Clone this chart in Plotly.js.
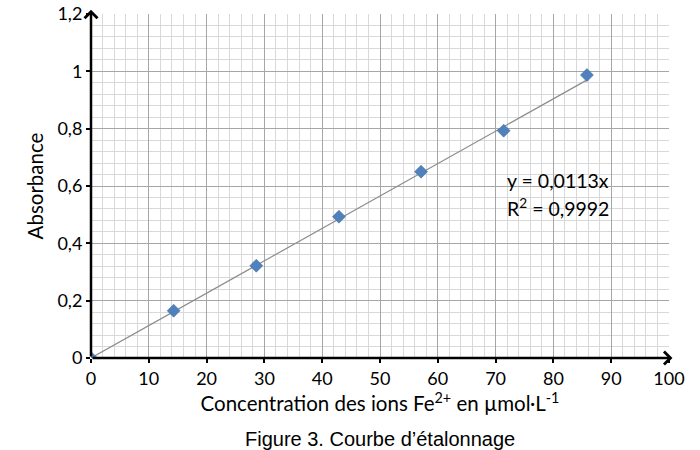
<!DOCTYPE html>
<html>
<head>
<meta charset="utf-8">
<script src="https://cdn.plot.ly/plotly-3.0.1.min.js"></script>
<style>
  body { margin: 0; background: #fff; }
  #chart { width: 700px; height: 450px; }
</style>
</head>
<body>
<div id="chart"></div>
<script>
    // measured points (concentration in µmol/L, absorbance)
    var concentration = [0, 14.3, 28.6, 42.9, 57.1, 71.4, 85.8];
    var absorbance = [0, 0.165, 0.322, 0.493, 0.650, 0.793, 0.987];

    // trendline ends as drawn on the picture
    var trendX = [0, 86];
    var trendY = [0, 0.972];

    var eqLines = ['y = 0,0113x', 'R<sup>2</sup> = 0,9992'];
    var caption = 'Figure 3. Courbe d\u2019\u00e9talonnage';

    var family = 'Lato, "Open Sans", sans-serif';
    var tickFont = {family: family, size: 18, color: '#000'};
    var titleFont = {family: family, size: 20.5, color: '#000'};

    var data = [
        {x: trendX, y: trendY,
         type: 'scatter', mode: 'lines',
         line: {color: '#8c8c8c', width: 1.2},
         hoverinfo: 'skip'},
        {x: concentration, y: absorbance,
         type: 'scatter', mode: 'markers',
         marker: {symbol: 'diamond', size: 10, color: '#4f81bd',
                  line: {color: '#3d6a9e', width: 0.5}}}
    ];

    var layout = {
        width: 700,
        height: 450,
        margin: {l: 91, r: 31, t: 14, b: 92},
        separators: ', ',
        showlegend: false,
        paper_bgcolor: '#fff',
        plot_bgcolor: '#fff',
        font: tickFont,
        xaxis: {
            range: [0, 100],
            dtick: 10,
            showgrid: true,
            gridcolor: '#a6a6a6',
            gridwidth: 1,
            minor: {dtick: 2, showgrid: true, gridcolor: '#d9d9d9', gridwidth: 1},
            zeroline: false,
            showline: false,
            ticks: 'outside',
            ticklen: 4,
            tickwidth: 2,
            tickcolor: '#000',
            tickfont: tickFont,
            title: {text: 'Concentration des ions Fe<sup>2+</sup> en \u00b5mol\u00b7L<sup>-1</sup>',
                    font: titleFont, standoff: 0}
        },
        yaxis: {
            range: [0, 1.2],
            dtick: 0.2,
            showgrid: true,
            gridcolor: '#a6a6a6',
            gridwidth: 1,
            minor: {dtick: 0.04, showgrid: true, gridcolor: '#d9d9d9', gridwidth: 1},
            zeroline: false,
            showline: false,
            ticks: 'outside',
            ticklen: 4,
            tickwidth: 2,
            tickcolor: '#000',
            tickfont: tickFont,
            title: {text: 'Absorbance', font: titleFont, standoff: 8}
        },
        annotations: [
            // axes with arrow heads
            {x: 100.6, y: 0, ax: 0, ay: 0, xref: 'x', yref: 'y', axref: 'x', ayref: 'y',
             showarrow: true, arrowhead: 4, arrowsize: 1, arrowwidth: 2.5, arrowcolor: '#000', text: ''},
            {x: 0, y: 1.215, ax: 0, ay: 0, xref: 'x', yref: 'y', axref: 'x', ayref: 'y',
             showarrow: true, arrowhead: 4, arrowsize: 1, arrowwidth: 2.5, arrowcolor: '#000', text: ''},
            {x: 71.6, y: 0.62, xref: 'x', yref: 'y', xanchor: 'left', yanchor: 'middle',
             showarrow: false, text: eqLines[0], font: {family: family, size: 19.5, color: '#000'}},
            {x: 71.6, y: 0.525, xref: 'x', yref: 'y', xanchor: 'left', yanchor: 'middle',
             showarrow: false, text: eqLines[1], font: {family: family, size: 19.5, color: '#000'}},
            {x: 0.5, y: -0.235, xref: 'paper', yref: 'paper', xanchor: 'center', yanchor: 'middle',
             showarrow: false, text: caption,
             font: {family: '"Liberation Sans", Arial, sans-serif', size: 20, color: '#000'}}
        ]
    };

    var config = {responsive: false, displayModeBar: false, staticPlot: true};
    Plotly.newPlot('chart', data, layout, config);
</script>
</body>
</html>
